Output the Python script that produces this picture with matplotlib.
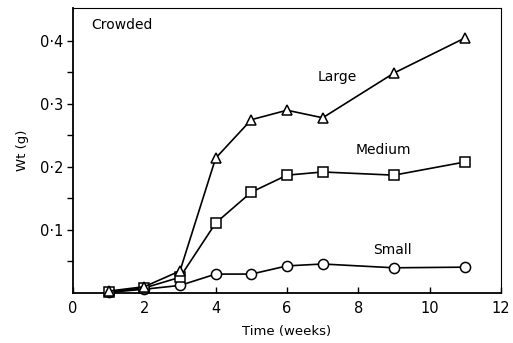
import matplotlib
matplotlib.use("Agg")
import matplotlib.pyplot as plt

weeks = [1, 2, 3, 4, 5, 6, 7, 9, 11]
large = [0.003, 0.010, 0.035, 0.214, 0.275, 0.290, 0.278, 0.349, 0.405]
medium = [0.002, 0.008, 0.025, 0.111, 0.160, 0.187, 0.192, 0.187, 0.208]
small = [0.001, 0.006, 0.012, 0.030, 0.030, 0.043, 0.046, 0.040, 0.041]

x_ticks = [0, 2, 4, 6, 8, 10, 12]
y_ticks = [0.1, 0.2, 0.3, 0.4]
y_tick_labels = ["0\u00b71", "0\u00b72", "0\u00b73", "0\u00b74"]

plt.rcParams["font.family"] = ["DejaVu Sans"]

fig = plt.figure(figsize=(5.13, 3.43), dpi=100)
ax = fig.add_axes([73 / 513, 1 - 293 / 343, (501 - 73) / 513, (293 - 7.5) / 343])

style = dict(color="black", lw=1.2, mfc="white", mec="black", mew=1.1, clip_on=False)
ax.plot(weeks, small, marker="o", ms=7.3, zorder=3, **style)
ax.plot(weeks, medium, marker="s", ms=7.3, zorder=4, **style)
ax.plot(weeks, large, marker="^", ms=7.8, zorder=5, **style)

ax.set_xlim(0, 12)
ax.set_ylim(0, 0.453)
ax.set_xticks(x_ticks)
ax.set_xticklabels([str(t) for t in x_ticks], fontsize=10.5)
ax.set_yticks(y_ticks)
ax.set_yticklabels(y_tick_labels, fontsize=10.5)
ax.set_yticks([0.05, 0.15, 0.25, 0.35], minor=True)
ax.tick_params(axis="x", direction="in", length=4, width=1, pad=6)
ax.tick_params(axis="y", which="both", direction="out", length=4, width=1, pad=3)

for side in ["left", "bottom"]:
    ax.spines[side].set_linewidth(1.3)
for side in ["top", "right"]:
    ax.spines[side].set_linewidth(0.8)

ax.text(0.5, 0.426, "Crowded", fontsize=10, ha="left", va="center")
ax.text(7.4, 0.343, "Large", fontsize=10, ha="center", va="center")
ax.text(8.7, 0.227, "Medium", fontsize=10, ha="center", va="center")
ax.text(8.95, 0.068, "Small", fontsize=10, ha="center", va="center")

ax.set_xlabel("Time (weeks)", fontsize=9.5, labelpad=6)
ax.set_ylabel("Wt (g)", fontsize=9.5, labelpad=8)

fig.savefig("out.png", dpi=100)
